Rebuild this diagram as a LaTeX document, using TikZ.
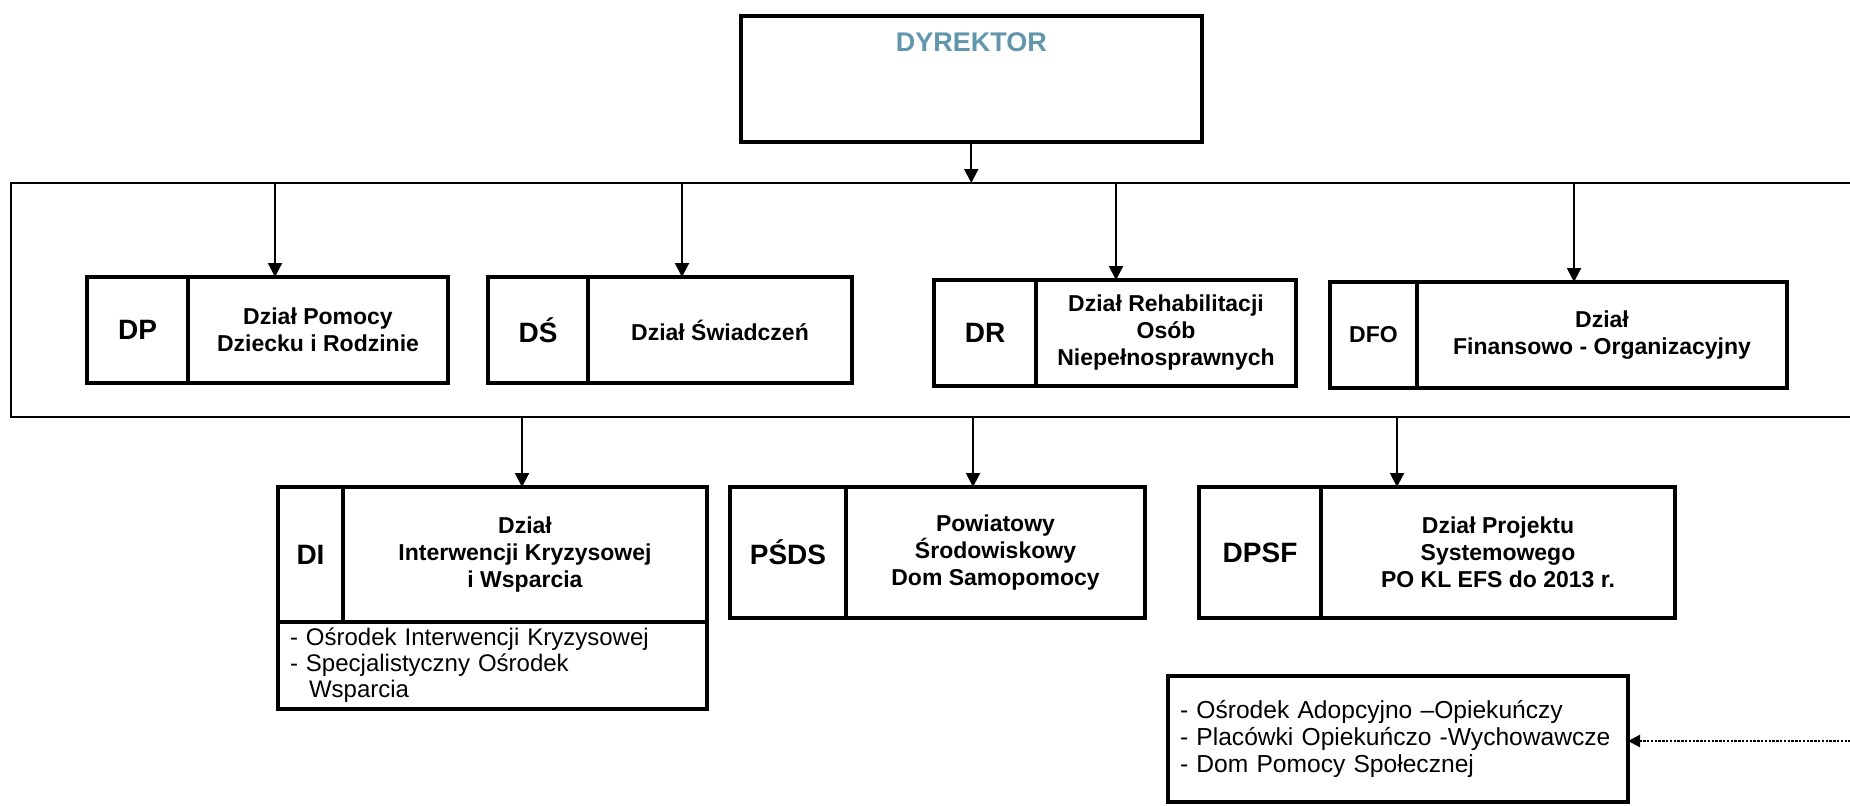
\documentclass[tikz,border=0pt]{standalone}
\usepackage{fontspec}
\setmainfont{Liberation Sans}
\usetikzlibrary{arrows.meta,positioning}
\definecolor{dyrkolor}{RGB}{98,150,172}

\begin{document}
\begin{tikzpicture}[x=0.5pt, y=-0.5pt,
    >={Triangle[width=7pt,length=7pt]},
    every node/.append style={align=center},
    kod/.style={draw, line width=2pt, outer sep=0pt, inner sep=0pt, anchor=north west,
      minimum height=53pt, font=\bfseries\fontsize{14}{16}\selectfont},
    nazwa/.style={draw, line width=2pt, outer sep=0pt, inner sep=0pt,
      minimum height=53pt, font=\bfseries\fontsize{11.5}{13.5}\selectfont},
    lista/.style={draw, line width=2pt, outer sep=0pt, inner xsep=6pt, inner ysep=0pt,
      align=left, anchor=north west, font=\fontsize{12}{13}\selectfont},
    strz/.style={->, line width=1pt}]
  \useasboundingbox (0,0) rectangle (1850,805);

  \node [draw, line width=1.75pt, minimum width=230.5pt, minimum height=63pt,
    anchor=north west] (DYR) at (739,14) {};
  \node [below=9pt of DYR.north, inner sep=0pt, text=dyrkolor,
    font=\bfseries\fontsize{13.5}{16}\selectfont] (DYRt) {DYREKTOR};

  % ramka dzialow
  \coordinate (rg) at (11,183);
  \coordinate (rd) at (11,417);
  \draw [line width=1pt] (1850,183) -- (rg) -- (rd) -- (1850,417);

  % pierwszy rzad
  \node [kod, minimum width=50.5pt] (DP) at (87,277) {DP};
  \node [nazwa, right=0pt of DP, minimum width=130pt] (DPn) {Dział Pomocy\\Dziecku i Rodzinie};
  \node [kod, minimum width=50pt] (DS) at (488,277) {DŚ};
  \node [nazwa, right=0pt of DS, minimum width=132pt] (DSn) {Dział Świadczeń};
  \node [kod, minimum width=51pt] (DR) at (934,280) {DR};
  \node [nazwa, right=0pt of DR, minimum width=130pt] (DRn) {Dział Rehabilitacji\\Osób\\Niepełnosprawnych};
  \node [kod, minimum width=43.5pt, font=\bfseries\fontsize{11.5}{13.5}\selectfont] (DFO) at (1330,282) {DFO};
  \node [nazwa, right=0pt of DFO, minimum width=185pt] (DFOn) {Dział\\Finansowo - Organizacyjny};

  % drugi rzad
  \node [kod, minimum width=32.5pt, minimum height=67.5pt] (DI) at (278,487) {DI};
  \node [nazwa, right=0pt of DI, minimum width=182pt, minimum height=67.5pt] (DIn) {Dział\\Interwencji Kryzysowej\\i Wsparcia};
  \node [lista, text width=202.5pt, minimum height=43.5pt] (DIl) at (DI.south west)
    {- Ośrodek Interwencji Kryzysowej\\- Specjalistyczny Ośrodek\\\hspace*{9.5pt}Wsparcia};
  \node [kod, minimum width=58pt, minimum height=65.5pt] (PSDS) at (730,487) {PŚDS};
  \node [nazwa, right=0pt of PSDS, minimum width=149.5pt, minimum height=65.5pt] (PSDSn) {Powiatowy\\Środowiskowy\\Dom Samopomocy};
  \node [kod, minimum width=61pt, minimum height=65.5pt] (DPSF) at (1199,487) {DPSF};
  \node [nazwa, right=0pt of DPSF, minimum width=177pt, minimum height=65.5pt] (DPSFn) {Dział Projektu\\Systemowego\\PO KL EFS do 2013 r.};

  \node [lista, text width=218pt, minimum height=63pt, font=\fontsize{12.3}{13.6}\selectfont] (OA) at (1168,676)
    {- Ośrodek Adopcyjno –Opiekuńczy\\- Placówki Opiekuńczo -Wychowawcze\\- Dom Pomocy Społecznej};

  % strzalki
  \coordinate (gDP) at (275,183);
  \coordinate (gDS) at (682,183);
  \coordinate (gDR) at (1116,183);
  \coordinate (gDFO) at (1574,183);
  \coordinate (dDI) at (522,417);
  \coordinate (dPSDS) at (973,417);
  \coordinate (dDPSF) at (1397,417);
  \coordinate (kp) at (1850,741);

  \draw [strz] (DYR.south) -- (DYR.south |- rg);
  \draw [strz] (gDP) -- (gDP |- DP.north);
  \draw [strz] (gDS) -- (gDS |- DS.north);
  \draw [strz] (gDR) -- (gDR |- DR.north);
  \draw [strz] (gDFO) -- (gDFO |- DFO.north);
  \draw [strz] (dDI) -- (dDI |- DI.north);
  \draw [strz] (dPSDS) -- (dPSDS |- PSDS.north);
  \draw [strz] (dDPSF) -- (dDPSF |- DPSF.north);
  \draw [line width=1.2pt, dash pattern=on 1.2pt off 0.7pt,
    {Triangle[width=6pt,length=6pt]}-] (OA.east |- kp) -- (kp);
\end{tikzpicture}
\end{document}
